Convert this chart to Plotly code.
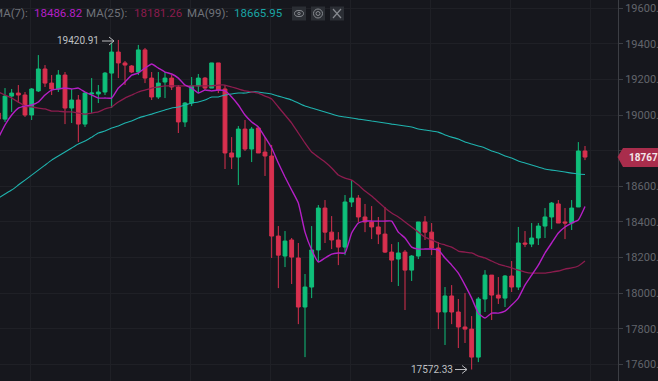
import plotly.graph_objects as go

candle_index = list(range(-1, 88))
opens = [19011,18977,19106,19123,19112,19000,19135,19258,19179,19146,19224,19039,19084,18949,19118,19118,19129,19235,19353,19292,19275,19241,19365,19207,19101,19185,19207,19157,18961,19067,19163,19207,19151,19292,19146,18787,18764,18921,18809,18927,18792,18770,18321,18209,18299,18198,17923,18035,18243,18478,18343,18299,18259,18512,18534,18428,18400,18372,18332,18231,18192,18231,18130,18209,18400,18343,18254,17895,17985,17895,17811,17799,17642,17968,18102,17990,17973,18097,18035,18282,18276,18310,18377,18428,18501,18400,18394,18484,18798]
highs = [19028,19151,19146,19168,19129,19151,19336,19280,19224,19252,19241,19146,19112,19129,19207,19168,19241,19404,19420.91,19303,19280,19393,19376,19241,19241,19241,19224,19168,19073,19213,19230,19213,19292,19292,19168,18876,18938,18972,18933,18933,18876,18832,18377,18349,18310,18282,18108,18377,18495,18523,18433,18343,18551,18635,18551,18501,18489,18428,18484,18276,18287,18243,18214,18400,18433,18394,18287,18035,18046,17968,18001,17872,17979,18130,18102,18091,18102,18181,18372,18349,18394,18394,18478,18512,18523,18478,18523,18848,18826]
lows = [18961,18961,19017,19067,18989,18972,19129,19157,19112,19129,18949,18955,18848,18933,19011,19067,19112,19039,19207,19168,19235,19224,19179,19084,19090,19095,19140,18899,18933,19050,19123,19140,19151,19123,18697,18697,18607,18798,18736,18787,18658,18198,18029,18147,18052,17827,17642,17973,18175,18282,18248,18158,18214,18484,18400,18343,18304,18276,18226,18063,18041,17906,18069,18192,18299,18214,17799,17710,17827,17693,17721,17572.33,17614,17895,17850,17940,17923,18007,18018,18259,18259,18271,18310,18360,18394,18304,18355,18484,18747]
closes = [18977,19106,19123,19112,19000,19146,19258,19179,19146,19224,19039,19084,18949,19123,19123,19129,19235,19353,19292,19280,19241,19365,19207,19101,19179,19207,19157,18961,19067,19163,19207,19151,19292,19140,18787,18764,18921,18809,18921,18787,18770,18321,18214,18293,18203,17923,18035,18243,18478,18343,18299,18259,18512,18534,18428,18400,18372,18332,18231,18186,18226,18130,18209,18400,18343,18254,17895,17985,17895,17811,17799,17642,17968,18102,17990,17973,18097,18035,18282,18276,18310,18377,18428,18506,18394,18394,18478,18798,18764]

ma7 = [18871,18944,19000,19039,19050,19056,19073,19112,19140,19146,19151,19146,19151,19129,19112,19095,19095,19095,19151,19185,19224,19235,19263,19286,19263,19241,19230,19207,19168,19151,19123,19140,19135,19140,19135,19101,19056,19000,18961,18933,18876,18815,18731,18652,18579,18506,18343,18243,18175,18198,18220,18226,18226,18338,18394,18405,18405,18405,18405,18405,18343,18310,18259,18248,18248,18248,18243,18198,18158,18113,18046,17973,17889,17861,17889,17889,17900,17934,17973,18046,18102,18158,18226,18282,18338,18372,18394,18411,18486.82]
ma25 = [19129,19112,19095,19073,19050,19045,19039,19034,19022,19022,19017,19017,19011,19005,19011,19017,19034,19045,19073,19095,19112,19129,19140,19151,19157,19163,19163,19163,19163,19163,19163,19163,19163,19168,19168,19157,19146,19135,19129,19123,19106,19090,19045,19000,18955,18899,18843,18792,18764,18736,18703,18663,18646,18635,18607,18574,18545,18512,18478,18450,18428,18400,18372,18343,18315,18299,18282,18271,18259,18237,18231,18226,18209,18198,18181,18164,18153,18142,18130,18119,18113,18113,18113,18119,18125,18136,18142,18153,18181.26]
ma99 = [18534,18557,18579,18607,18635,18663,18691,18719,18747,18770,18792,18815,18837,18854,18876,18899,18910,18927,18938,18955,18966,18983,18994,19005,19017,19028,19039,19045,19056,19067,19073,19084,19101,19101,19112,19118,19123,19123,19129,19129,19123,19118,19106,19095,19084,19067,19050,19039,19028,19017,19005,18994,18989,18983,18977,18972,18966,18961,18955,18949,18944,18938,18933,18921,18916,18910,18904,18888,18876,18865,18848,18837,18826,18815,18798,18787,18770,18759,18742,18731,18719,18708,18697,18691,18686,18680,18674,18669,18665.95]

y_ticks = [17600,17800,18000,18200,18400,18600,18800,19000,19200,19400,19600]
y_tick_text = ["17600.00","17800.00","18000.00","18200.00","18400.00","18600.00","","19000.00","19200.00","19400.00","19600.00"]
legend_names = ["MA(7):", "MA(25):", "MA(99):"]
legend_values = ["18486.82", "18181.26", "18665.95"]
high_label = "19420.91"
low_label = "17572.33"
last_price = "18767.26"

W, H = 658, 381
PW = 618
BG = "#16171d"
GRID = "#1f2026"
UP = "#0fbf7a"
DOWN = "#d8304f"
C7 = "#b51fc6"
C25 = "#8c1c4e"
C99 = "#1fb3ae"
GREY = "#62656c"
FONT = "Roboto"

def px(x):
    return x / PW

def py(y):
    return 1 - y / H

fig = go.Figure()
fig.add_trace(go.Candlestick(
    x=candle_index, open=opens, high=highs, low=lows, close=closes,
    increasing=dict(line=dict(color=UP, width=1), fillcolor=UP),
    decreasing=dict(line=dict(color=DOWN, width=1), fillcolor=DOWN),
    whiskerwidth=0, showlegend=False, hoverinfo="skip"))
for vals, col, w in [(ma99, C99, 1.1), (ma25, C25, 1.3), (ma7, C7, 1.4)]:
    fig.add_trace(go.Scatter(x=candle_index, y=vals, mode="lines",
                             line=dict(color=col, width=w, shape="spline", smoothing=0.4),
                             showlegend=False, hoverinfo="skip"))

ann = []
def label(x, y, text, color, size=11, anchor="left", bold=False):
    ann.append(dict(xref="paper", yref="paper", x=px(x), y=py(y), text=f"<b>{text}</b>" if bold else text,
                    showarrow=False, xanchor=anchor, yanchor="middle",
                    font=dict(family=FONT, size=size, color=color), borderpad=0, borderwidth=0))

label(27.5, 13, legend_names[0], "#6f7279", 11.5, "right")
label(33.5, 13, legend_values[0], C7, 11.5)
label(86, 13, legend_names[1], "#6f7279", 11.5)
label(133.5, 13, legend_values[1], C25, 11.5)
label(187, 13, legend_names[2], "#6f7279", 11.5)
label(234, 13, legend_values[2], "#1aa5a5", 11.5)
label(57, 41, high_label, "#bfc0c3", 10)
label(411, 369.5, low_label, "#bfc0c3", 10)
label(629, 157, last_price, "#f3e6ea", 10, bold=True)

shapes = []
def stroke(a, b, c, d, color, width):
    shapes.append(dict(type="line", xref="paper", yref="paper", x0=px(a), y0=py(b), x1=px(c), y1=py(d),
                       line=dict(color=color, width=width), layer="above"))

for (x0, x1, y) in [(102, 114, 41), (455, 467, 369.5)]:
    stroke(x0, y, x1, y, "#b9babd", 1)
    stroke(x1 - 5, y - 4, x1, y, "#b9babd", 1)
    stroke(x1 - 5, y + 4, x1, y, "#b9babd", 1)

def tag_path():
    pts = [(617.5, 157), (623, 148), (660, 148), (660, 167), (623, 167)]
    return "M " + " L ".join(f"{px(a):.5f} {py(b):.5f}" for a, b in pts) + " Z"
shapes.append(dict(type="path", xref="paper", yref="paper", path=tag_path(),
                   fillcolor="#a92d4c", line=dict(width=0), layer="above"))
ICON = "#878a90"
for x0 in (292, 311, 330):
    shapes.append(dict(type="rect", xref="paper", yref="paper", x0=px(x0), x1=px(x0 + 14),
                       y0=py(20.5), y1=py(6.5), fillcolor="#2b2e34", line=dict(width=0), layer="above"))
def circ(cx, cy, rx, ry, width=1):
    shapes.append(dict(type="circle", xref="paper", yref="paper", x0=px(cx - rx), x1=px(cx + rx),
                       y0=py(cy + ry), y1=py(cy - ry), line=dict(color=ICON, width=width), layer="above"))
circ(299, 13.5, 4.5, 3)
circ(299, 13.5, 1.2, 1.2)
circ(318, 13.5, 4.5, 4.5)
circ(318, 13.5, 2, 2)
stroke(333, 9, 341, 18, ICON, 1.2)
stroke(341, 9, 333, 18, ICON, 1.2)

fig.update_layout(
    width=W, height=H, autosize=False,
    margin=dict(l=0, r=W - PW, t=0, b=0, pad=0),
    paper_bgcolor=BG, plot_bgcolor=BG,
    boxgap=0.18, showlegend=False,
    annotations=ann, shapes=shapes,
    xaxis=dict(range=[-0.75, 91.95], rangeslider=dict(visible=False), showticklabels=False,
               ticks="", tick0=3.87, dtick=12, showgrid=True, gridcolor=GRID, gridwidth=1,
               zeroline=False, showline=False, automargin=False),
    yaxis=dict(range=[17508, 19645], side="right", tickvals=y_ticks, ticktext=y_tick_text,
               ticks="outside", ticklen=4, tickcolor="#3c3e44", tickwidth=1,
               tickfont=dict(family=FONT, size=11, color=GREY),
               showgrid=True, gridcolor=GRID, gridwidth=1, zeroline=False,
               showline=True, linecolor="#3c3e44", linewidth=1, automargin=False),
)

fig.write_html("out.html", config=dict(displayModeBar=False),
               post_script="document.body.style.margin='0';document.body.style.background='#16171d';document.body.style.overflow='hidden';")
